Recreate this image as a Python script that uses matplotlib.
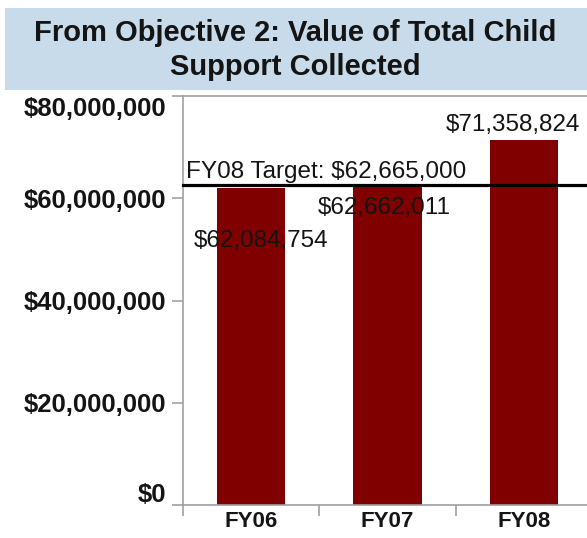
import matplotlib.pyplot as plt
import matplotlib.patches as patches
import matplotlib.transforms as mtransforms
from matplotlib.ticker import FuncFormatter

plt.rcParams['font.family'] = ['Liberation Sans', 'DejaVu Sans']

categories = ['FY06', 'FY07', 'FY08']
values = [62084754, 62662011, 71358824]
target = 62665000
target_label = 'FY08 Target: $62,665,000'
title = 'From Objective 2: Value of Total Child\nSupport Collected'
yticks = [0, 20000000, 40000000, 60000000, 80000000]

# label offsets in pixels (manual placement like the original)
label_offsets = [(10, -53), (-3, -23), (-11, 15)]

BAR = '#800000'
TXT = '#141414'
GRAY = '#a0a0a0'

fig = plt.figure(figsize=(5.87, 5.38), dpi=100)
fig.patch.set_facecolor('white')

# title banner
banner = patches.Rectangle((5 / 587, 1 - 90 / 538), 1, 82 / 538,
                           transform=fig.transFigure, fc='#c8dbea', ec='none')
fig.patches.append(banner)
fig.text(0.503, 1 - 50 / 538, title, ha='center', va='center',
         fontsize=21, fontweight='bold', color=TXT, linespacing=1.3)

ax = fig.add_axes([183 / 587, 1 - 505 / 538, 409 / 587, 409 / 538])
x = list(range(len(categories)))
ax.bar(x, values, width=0.5, color=BAR, zorder=2)
ax.set_xlim(-0.5, 2.5)
ax.set_ylim(0, 80000000)

ax.axhline(target, color='black', lw=2.3, zorder=3, clip_on=False)
ax.annotate(target_label, (-0.5, target), xytext=(3, 2),
            textcoords='offset pixels', ha='left', va='bottom',
            fontsize=17.5, color=TXT, zorder=4)

for i, v in enumerate(values):
    dx, dy = label_offsets[i]
    ax.annotate('${:,}'.format(v), (i, v), xytext=(dx, dy),
                textcoords='offset pixels', ha='center', va='center',
                fontsize=17.5, color=TXT, zorder=4)

for s in ax.spines.values():
    s.set_color(GRAY)
    s.set_linewidth(1.2)

ax.set_yticks(yticks)
ax.yaxis.set_major_formatter(FuncFormatter(lambda v, p: '${:,.0f}'.format(v)))
ax.tick_params(axis='y', direction='out', length=8, width=1.2, color=GRAY,
               pad=4, labelsize=18.5, labelcolor=TXT)
for lab in ax.get_yticklabels():
    lab.set_fontweight('bold')
# end labels are pulled inwards in the original
ylabs = ax.get_yticklabels()
ylabs[0].set_transform(ylabs[0].get_transform() +
                       mtransforms.ScaledTranslation(0, 13 / 100, fig.dpi_scale_trans))
ylabs[-1].set_transform(ylabs[-1].get_transform() +
                        mtransforms.ScaledTranslation(0, -10 / 100, fig.dpi_scale_trans))

ax.set_xticks([-0.5, 0.5, 1.5, 2.5])
ax.set_xticklabels([])
ax.set_xticks(x, minor=True)
ax.set_xticklabels(categories, minor=True)
ax.tick_params(axis='x', which='major', direction='out', length=8, width=1.2,
               color=GRAY)
ax.tick_params(axis='x', which='minor', length=0, pad=4, labelsize=16,
               labelcolor=TXT)
for lab in ax.get_xticklabels(minor=True):
    lab.set_fontweight('bold')

fig.savefig('out.png', dpi=100)
